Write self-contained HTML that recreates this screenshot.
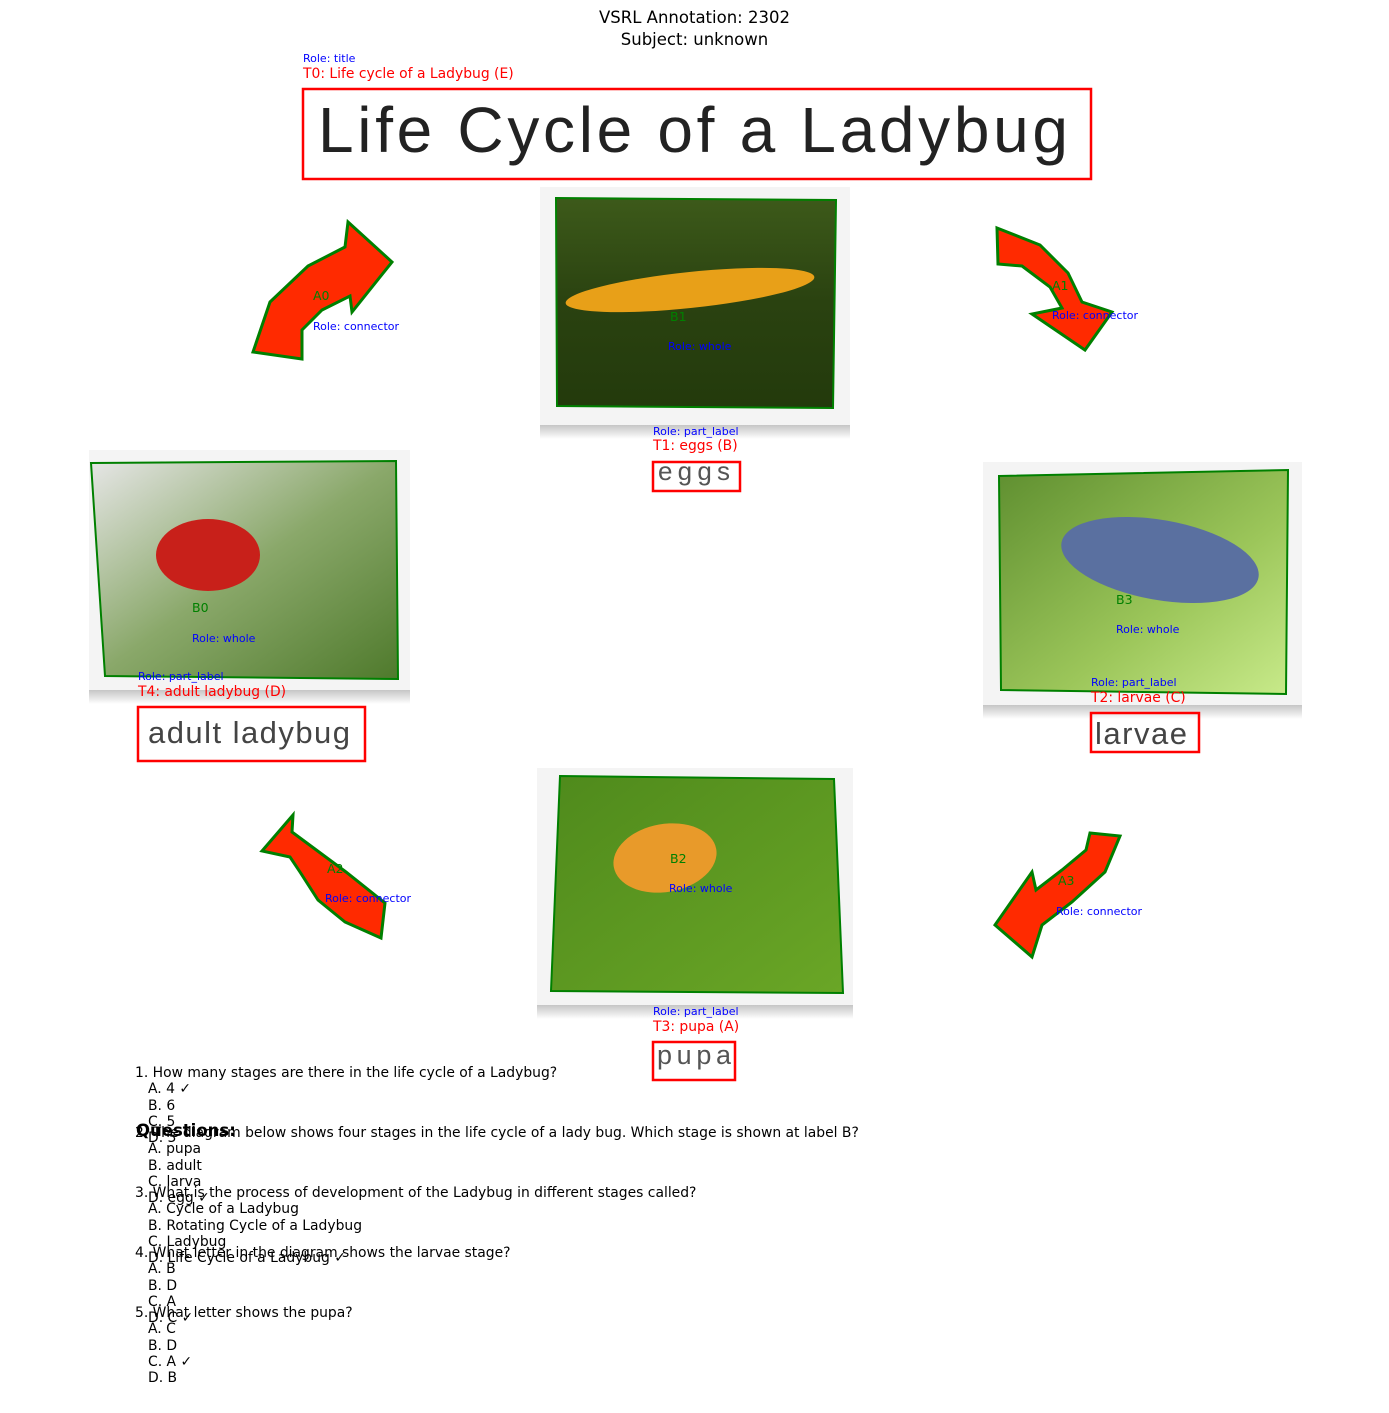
<!DOCTYPE html>
<html><head><meta charset="utf-8"><style>
body{margin:0;background:#fff;width:1389px;height:1413px;position:relative;overflow:hidden;font-family:"DejaVu Sans","Liberation Sans",sans-serif}
.t{position:absolute;white-space:nowrap;line-height:1}
.role{color:#0000ff;font-size:11px}
.lab{color:#ff0000;font-size:13.9px}
.gl{color:#008000;font-size:12.5px}
.q{font-size:13.9px;color:#000}
</style></head><body>
<div class="t" style="left:0;width:1389px;text-align:center;top:10px;font-size:16.5px">VSRL Annotation: 2302</div>
<div class="t" style="left:0;width:1389px;text-align:center;top:32px;font-size:16.5px">Subject: unknown</div>

<svg width="1389" height="1413" style="position:absolute;left:0;top:0">
<defs>
<linearGradient id="eg" x1="0" y1="0" x2="0" y2="1"><stop offset="0" stop-color="#3d5a1a"/><stop offset="0.5" stop-color="#2a4210"/><stop offset="1" stop-color="#233a0c"/></linearGradient>
<linearGradient id="lb" x1="0" y1="0" x2="1" y2="1"><stop offset="0" stop-color="#e6e6e6"/><stop offset="0.5" stop-color="#8aa86a"/><stop offset="1" stop-color="#4f7a2c"/></linearGradient>
<linearGradient id="lv" x1="0" y1="0" x2="1" y2="1"><stop offset="0" stop-color="#5f8f30"/><stop offset="0.6" stop-color="#9cc65a"/><stop offset="1" stop-color="#c8ea8a"/></linearGradient>
<linearGradient id="pp" x1="0" y1="0" x2="1" y2="1"><stop offset="0" stop-color="#4f8a1c"/><stop offset="1" stop-color="#6aa626"/></linearGradient>
<linearGradient id="sh" x1="0" y1="0" x2="0" y2="1"><stop offset="0" stop-color="#bdbdbd"/><stop offset="1" stop-color="#fff"/></linearGradient>
</defs>
<g>
<rect x="540" y="423" width="310" height="16" fill="url(#sh)"/><rect x="540" y="187" width="310" height="238" fill="#f4f4f4"/>
<polygon points="556,198 836,200 833,408 557,406" fill="url(#eg)" stroke="#008000" stroke-width="2"/>
<ellipse cx="690" cy="290" rx="125" ry="18" fill="#e8a018" transform="rotate(-6 690 290)"/>
</g>
<g>
<rect x="89" y="688" width="321" height="16" fill="url(#sh)"/><rect x="89" y="450" width="321" height="240" fill="#f4f4f4"/>
<polygon points="91,463 396,461 398,679 105,676" fill="url(#lb)" stroke="#008000" stroke-width="2"/>
<ellipse cx="208" cy="555" rx="52" ry="36" fill="#c8201a"/>
</g>
<g>
<rect x="983" y="703" width="319" height="16" fill="url(#sh)"/><rect x="983" y="462" width="319" height="243" fill="#f4f4f4"/>
<polygon points="999,476 1288,470 1286,694 1001,690" fill="url(#lv)" stroke="#008000" stroke-width="2"/>
<ellipse cx="1160" cy="560" rx="100" ry="40" fill="#5a70a0" transform="rotate(10 1160 560)"/>
</g>
<g>
<rect x="537" y="1003" width="316" height="16" fill="url(#sh)"/><rect x="537" y="768" width="316" height="237" fill="#f4f4f4"/>
<polygon points="560,776 834,779 843,993 551,991" fill="url(#pp)" stroke="#008000" stroke-width="2"/>
<ellipse cx="665" cy="858" rx="52" ry="34" fill="#e89a2a" transform="rotate(-10 665 858)"/>
</g>
<polygon points="253,352 270,302 308,266 345,247 348,222 392,262 352,312 350,296 322,310 302,330 302,359" fill="#ff2a00" stroke="#008000" stroke-width="3"/>
<polygon points="997,228 1040,245 1068,273 1082,302 1112,312 1085,350 1032,314 1062,308 1050,287 1022,266 998,264" fill="#ff2a00" stroke="#008000" stroke-width="3"/>
<polygon points="1090,833 1120,836 1105,872 1072,902 1042,925 1032,957 995,925 1032,872 1036,890 1062,870 1086,850" fill="#ff2a00" stroke="#008000" stroke-width="3"/>
<polygon points="262,851 293,815 292,832 346,872 385,903 381,938 345,922 318,900 300,872 290,857" fill="#ff2a00" stroke="#008000" stroke-width="3"/>
<rect x="303" y="89" width="788" height="90" fill="none" stroke="#ff0000" stroke-width="2.5"/>
<text x="318" y="152" font-family="Liberation Sans,sans-serif" font-size="64" fill="#222" textLength="750" lengthAdjust="spacing">Life Cycle of a Ladybug</text>
<rect x="653" y="462" width="87" height="29" fill="none" stroke="#ff0000" stroke-width="2.5"/>
<text x="658" y="480" font-family="Liberation Sans,sans-serif" font-size="26" fill="#555" textLength="72">eggs</text>
<rect x="138" y="707" width="227" height="54" fill="none" stroke="#ff0000" stroke-width="2.5"/>
<text x="148" y="743" font-family="Liberation Sans,sans-serif" font-size="31" fill="#444" textLength="202">adult ladybug</text>
<rect x="1091" y="713" width="108" height="39" fill="none" stroke="#ff0000" stroke-width="2.5"/>
<text x="1095" y="744" font-family="Liberation Sans,sans-serif" font-size="31" fill="#444" textLength="92">larvae</text>
<rect x="653" y="1042" width="82" height="38" fill="none" stroke="#ff0000" stroke-width="2.5"/>
<text x="657" y="1064" font-family="Liberation Sans,sans-serif" font-size="27" fill="#555" textLength="74">pupa</text>
</svg>

<div class="t role" style="left:303px;top:53px">Role: title</div>
<div class="t lab" style="left:303px;top:68px">T0: Life cycle of a Ladybug (E)</div>
<div class="t role" style="left:653px;top:426px">Role: part_label</div>
<div class="t lab" style="left:653px;top:440px">T1: eggs (B)</div>
<div class="t role" style="left:138px;top:671px">Role: part_label</div>
<div class="t lab" style="left:138px;top:686px">T4: adult ladybug (D)</div>
<div class="t role" style="left:1091px;top:677px">Role: part_label</div>
<div class="t lab" style="left:1091px;top:692px">T2: larvae (C)</div>
<div class="t role" style="left:653px;top:1006px">Role: part_label</div>
<div class="t lab" style="left:653px;top:1021px">T3: pupa (A)</div>

<div class="t gl" style="left:670px;top:311px">B1</div>
<div class="t role" style="left:668px;top:341px">Role: whole</div>
<div class="t gl" style="left:192px;top:602px">B0</div>
<div class="t role" style="left:192px;top:633px">Role: whole</div>
<div class="t gl" style="left:1116px;top:594px">B3</div>
<div class="t role" style="left:1116px;top:624px">Role: whole</div>
<div class="t gl" style="left:670px;top:853px">B2</div>
<div class="t role" style="left:669px;top:883px">Role: whole</div>

<div class="t gl" style="left:313px;top:290px">A0</div>
<div class="t role" style="left:313px;top:321px">Role: connector</div>
<div class="t gl" style="left:1052px;top:280px">A1</div>
<div class="t role" style="left:1052px;top:310px">Role: connector</div>
<div class="t gl" style="left:327px;top:863px">A2</div>
<div class="t role" style="left:325px;top:893px">Role: connector</div>
<div class="t gl" style="left:1058px;top:875px">A3</div>
<div class="t role" style="left:1056px;top:906px">Role: connector</div>

<div class="t" style="left:136px;top:1123px;font-size:16.5px;font-weight:bold">Questions:</div>
<div>
<div class="t q" style="left:135px;top:1067px">1. How many stages are there in the life cycle of a Ladybug?</div>
<div class="t q" style="left:148px;top:1083px">A. 4 ✓</div>
<div class="t q" style="left:148px;top:1100px">B. 6</div>
<div class="t q" style="left:148px;top:1116px">C. 5</div>
<div class="t q" style="left:148px;top:1132px">D. 3</div>
<div class="t q" style="left:135px;top:1127px">2. The diagram below shows four stages in the life cycle of a lady bug. Which stage is shown at label B?</div>
<div class="t q" style="left:148px;top:1143px">A. pupa</div>
<div class="t q" style="left:148px;top:1160px">B. adult</div>
<div class="t q" style="left:148px;top:1176px">C. larva</div>
<div class="t q" style="left:148px;top:1192px">D. egg ✓</div>
<div class="t q" style="left:135px;top:1187px">3. What is the process of development of the Ladybug in different stages called?</div>
<div class="t q" style="left:148px;top:1203px">A. Cycle of a Ladybug</div>
<div class="t q" style="left:148px;top:1220px">B. Rotating Cycle of a Ladybug</div>
<div class="t q" style="left:148px;top:1236px">C. Ladybug</div>
<div class="t q" style="left:148px;top:1252px">D. Life Cycle of a Ladybug ✓</div>
<div class="t q" style="left:135px;top:1247px">4. What letter in the diagram shows the larvae stage?</div>
<div class="t q" style="left:148px;top:1263px">A. B</div>
<div class="t q" style="left:148px;top:1280px">B. D</div>
<div class="t q" style="left:148px;top:1296px">C. A</div>
<div class="t q" style="left:148px;top:1312px">D. C ✓</div>
<div class="t q" style="left:135px;top:1307px">5. What letter shows the pupa?</div>
<div class="t q" style="left:148px;top:1323px">A. C</div>
<div class="t q" style="left:148px;top:1340px">B. D</div>
<div class="t q" style="left:148px;top:1356px">C. A ✓</div>
<div class="t q" style="left:148px;top:1372px">D. B</div>
</div>
</body></html>
